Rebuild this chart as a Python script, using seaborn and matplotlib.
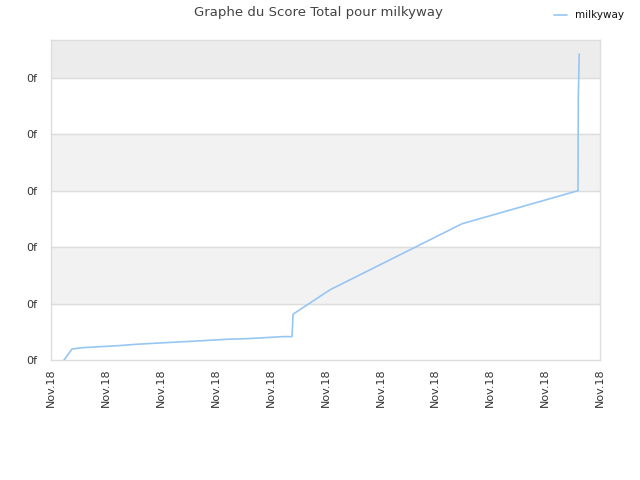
import pandas as pd
import numpy as np
import matplotlib.pyplot as plt
import matplotlib.dates as mdates
from matplotlib.ticker import FuncFormatter
import seaborn as sns

# Score history
timestamps = ['2018-11-05 11:22', '2018-11-05 18:23', '2018-11-06 03:07', '2018-11-06 18:52',
              '2018-11-07 10:34', '2018-11-08 03:10', '2018-11-08 18:55', '2018-11-09 10:34',
              '2018-11-10 03:22', '2018-11-10 19:12', '2018-11-11 10:34', '2018-11-12 03:22',
              '2018-11-12 19:12', '2018-11-13 11:02', '2018-11-13 18:43', '2018-11-13 19:40',
              '2018-11-15 03:50', '2018-11-19 23:31', '2018-11-24 04:48', '2018-11-24 05:00',
              '2018-11-24 05:50']
scores = [0.0, 0.195, 0.218, 0.236, 0.254, 0.279, 0.297, 0.314,
          0.332, 0.350, 0.368, 0.378, 0.396, 0.414, 0.414, 0.812,
          1.243, 2.415, 3.0, 4.62, 5.42]
player = 'milkyway'

df = pd.DataFrame({'Date': pd.to_datetime(timestamps), 'Score': scores})

sns.set_style('white')
plt.rcParams['font.family'] = ['DejaVu Sans']

fig = plt.figure(figsize=(6.4, 4.8), dpi=100)
ax = fig.add_axes([0.0797, 0.25, 0.8578, 0.6667])

# alternating background bands
ymax = 5.67
ax.axhspan(5, ymax, color='#ececec', zorder=0)
ax.axhspan(1, 2, color='#f2f2f2', zorder=0)
ax.axhspan(3, 4, color='#f2f2f2', zorder=0)
for g in range(1, 6):
    ax.axhline(g, color='#dddddd', lw=1, zorder=1)

sns.lineplot(data=df, x='Date', y='Score', ax=ax, color='#97c6f2', lw=1.2, label=player, zorder=3)

start = pd.Timestamp('2018-11-05')
ax.set_xlim(start, start + pd.Timedelta(days=20))
ax.set_ylim(0, ymax)
ax.xaxis.set_major_locator(mdates.DayLocator(bymonthday=range(5, 27, 2)))
ax.xaxis.set_major_formatter(mdates.DateFormatter('%b.%y'))
ax.set_yticks(range(0, 6))
ax.yaxis.set_major_formatter(FuncFormatter(lambda v, p: '0f'))
ax.tick_params(axis='x', rotation=90, labelsize=8, colors='#333333', length=0, pad=6)
ax.tick_params(axis='y', labelsize=8, colors='#333333', length=0, pad=10)
ax.set_xlabel('')
ax.set_ylabel('')
for s in ax.spines.values():
    s.set_color('#dddddd')
    s.set_linewidth(1)

fig.suptitle('Graphe du Score Total pour milkyway', x=0.497, y=0.988, fontsize=9.5, color='#444444')
leg = ax.legend(loc='upper right', bbox_to_anchor=(0.99, 0.998), bbox_transform=fig.transFigure,
                frameon=False, fontsize=7.5, handlelength=1.2, handletextpad=0.8)
for t in leg.get_texts():
    t.set_color('#111111')

fig.savefig('out.png', dpi=100)
